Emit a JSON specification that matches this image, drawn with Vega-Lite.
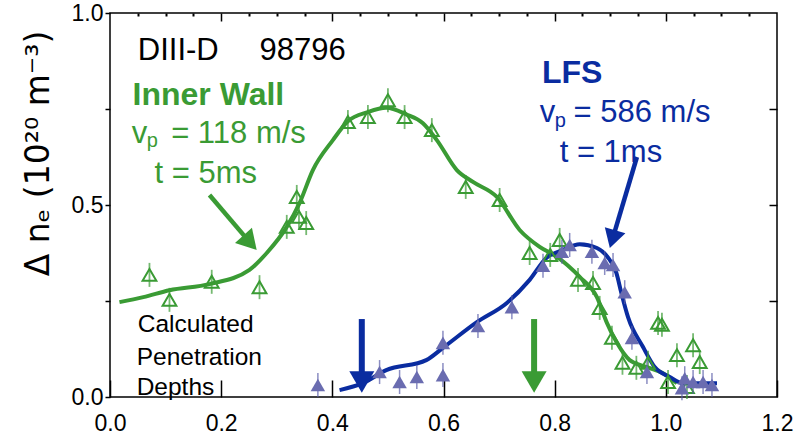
{
  "$schema": "https://vega.github.io/schema/vega-lite/v6.json",
  "width": 667,
  "height": 384,
  "autosize": {"type": "none"},
  "padding": {"left": 110, "top": 13, "right": 19, "bottom": 39},
  "background": "white",
  "config": {
    "view": {"stroke": "black", "strokeWidth": 1.5},
    "font": "Liberation Sans",
    "axis": {"domain": false, "grid": false, "tickColor": "black", "labelColor": "black", "labelFont": "Liberation Sans", "titleFont": "Liberation Sans", "tickWidth": 1.5}
  },
  "datasets": {
    "greenFit": [
      {"x": 0.017, "y": 0.247}, {"x": 0.06, "y": 0.26}, {"x": 0.107, "y": 0.278}, {"x": 0.179, "y": 0.294},
      {"x": 0.251, "y": 0.331}, {"x": 0.282, "y": 0.375}, {"x": 0.318, "y": 0.443}, {"x": 0.341, "y": 0.505},
      {"x": 0.365, "y": 0.591}, {"x": 0.401, "y": 0.669}, {"x": 0.428, "y": 0.718}, {"x": 0.464, "y": 0.742},
      {"x": 0.497, "y": 0.753}, {"x": 0.533, "y": 0.736}, {"x": 0.563, "y": 0.713}, {"x": 0.588, "y": 0.669},
      {"x": 0.624, "y": 0.591}, {"x": 0.653, "y": 0.56}, {"x": 0.696, "y": 0.521}, {"x": 0.737, "y": 0.435},
      {"x": 0.773, "y": 0.391}, {"x": 0.804, "y": 0.365}, {"x": 0.845, "y": 0.313}, {"x": 0.876, "y": 0.26},
      {"x": 0.894, "y": 0.193}, {"x": 0.912, "y": 0.141}, {"x": 0.935, "y": 0.096}, {"x": 0.966, "y": 0.078},
      {"x": 0.995, "y": 0.062}, {"x": 1.02, "y": 0.036}
    ],
    "blueFit": [
      {"x": 0.413, "y": 0.018}, {"x": 0.455, "y": 0.036}, {"x": 0.497, "y": 0.07}, {"x": 0.569, "y": 0.096},
      {"x": 0.599, "y": 0.128}, {"x": 0.66, "y": 0.195}, {"x": 0.714, "y": 0.245}, {"x": 0.755, "y": 0.305},
      {"x": 0.785, "y": 0.362}, {"x": 0.815, "y": 0.383}, {"x": 0.845, "y": 0.398}, {"x": 0.876, "y": 0.388},
      {"x": 0.895, "y": 0.365}, {"x": 0.911, "y": 0.323}, {"x": 0.92, "y": 0.271}, {"x": 0.932, "y": 0.208},
      {"x": 0.959, "y": 0.13}, {"x": 0.98, "y": 0.078}, {"x": 1.007, "y": 0.052}, {"x": 1.031, "y": 0.036},
      {"x": 1.092, "y": 0.036}
    ],
    "greenPts": [
      {"x": 0.071, "y": 0.318}, {"x": 0.107, "y": 0.253}, {"x": 0.183, "y": 0.3}, {"x": 0.269, "y": 0.286},
      {"x": 0.318, "y": 0.443}, {"x": 0.336, "y": 0.521}, {"x": 0.34, "y": 0.469}, {"x": 0.353, "y": 0.453},
      {"x": 0.428, "y": 0.716}, {"x": 0.464, "y": 0.729}, {"x": 0.5, "y": 0.773}, {"x": 0.53, "y": 0.729},
      {"x": 0.579, "y": 0.695}, {"x": 0.64, "y": 0.547}, {"x": 0.701, "y": 0.513}, {"x": 0.755, "y": 0.375},
      {"x": 0.809, "y": 0.409}, {"x": 0.792, "y": 0.37}, {"x": 0.842, "y": 0.305}, {"x": 0.869, "y": 0.297},
      {"x": 0.881, "y": 0.232}, {"x": 0.903, "y": 0.154}, {"x": 0.922, "y": 0.089}, {"x": 0.947, "y": 0.076},
      {"x": 0.968, "y": 0.089}, {"x": 0.986, "y": 0.193}, {"x": 0.993, "y": 0.188}, {"x": 1.02, "y": 0.109},
      {"x": 1.049, "y": 0.135}, {"x": 1.061, "y": 0.091}, {"x": 1.004, "y": 0.039}, {"x": 1.038, "y": 0.026}
    ],
    "bluePts": [
      {"x": 0.374, "y": 0.031}, {"x": 0.485, "y": 0.065}, {"x": 0.521, "y": 0.039}, {"x": 0.552, "y": 0.052},
      {"x": 0.599, "y": 0.057}, {"x": 0.599, "y": 0.141}, {"x": 0.662, "y": 0.185}, {"x": 0.723, "y": 0.234},
      {"x": 0.779, "y": 0.342}, {"x": 0.813, "y": 0.378}, {"x": 0.827, "y": 0.396}, {"x": 0.867, "y": 0.378},
      {"x": 0.89, "y": 0.349}, {"x": 0.905, "y": 0.344}, {"x": 0.926, "y": 0.273}, {"x": 0.939, "y": 0.154},
      {"x": 0.966, "y": 0.065}, {"x": 1.029, "y": 0.023}, {"x": 1.034, "y": 0.049}, {"x": 1.049, "y": 0.039},
      {"x": 1.067, "y": 0.039}, {"x": 1.083, "y": 0.031}
    ],
    "arrows": [
      {"id": "blueDepth", "group": "LFS", "kind": "vertical", "x": 0.453, "y": 0.203, "x2": 0.453, "y2": 0.039},
      {"id": "greenDepth", "group": "Inner Wall", "kind": "vertical", "x": 0.763, "y": 0.203, "x2": 0.763, "y2": 0.039},
      {"id": "greenLabel", "group": "Inner Wall", "kind": "diagonal", "x": 0.179, "y": 0.526, "x2": 0.252, "y2": 0.402},
      {"id": "blueLabel", "group": "LFS", "kind": "diagonal", "x": 0.948, "y": 0.625, "x2": 0.904, "y2": 0.411}
    ],
    "bigText": [
      {"t": "DIII-D", "group": "note", "x": 0.05, "y": 0.878},
      {"t": "98796", "group": "note", "x": 0.269, "y": 0.878},
      {"t": "v", "group": "Inner Wall", "x": 0.039, "y": 0.661},
      {"t": "= 118 m/s", "group": "Inner Wall", "x": 0.11, "y": 0.661},
      {"t": "t = 5ms", "group": "Inner Wall", "x": 0.08, "y": 0.557},
      {"t": "v", "group": "LFS", "x": 0.773, "y": 0.716},
      {"t": "= 586 m/s", "group": "LFS", "x": 0.834, "y": 0.716},
      {"t": "t = 1ms", "group": "LFS", "x": 0.809, "y": 0.612}
    ],
    "boldText": [
      {"t": "Inner Wall", "group": "Inner Wall", "x": 0.0405, "y": 0.76},
      {"t": "LFS", "group": "LFS", "x": 0.777, "y": 0.818}
    ],
    "subText": [
      {"t": "p", "group": "Inner Wall", "x": 0.066, "y": 0.651},
      {"t": "p", "group": "LFS", "x": 0.8, "y": 0.703}
    ],
    "noteText": [
      {"t": "Calculated", "group": "note", "x": 0.05, "y": 0.169},
      {"t": "Penetration", "group": "note", "x": 0.048, "y": 0.083},
      {"t": "Depths", "group": "note", "x": 0.048, "y": 0.005}
    ]
  },
  "resolve": {"axis": {"x": "independent", "y": "independent"}},
  "layer": [
    {
      "data": {"name": "greenFit"},
      "mark": {"type": "line", "color": "#3a9b34", "strokeWidth": 4, "interpolate": "monotone"},
      "encoding": {
        "x": {"field": "x", "type": "quantitative", "scale": {"domain": [0, 1.2], "nice": false, "zero": false},
          "axis": {"orient": "bottom", "values": [0, 0.2, 0.4, 0.6, 0.8, 1.0, 1.2], "format": ".1f", "labelFontSize": 23, "tickSize": -17, "labelPadding": 32, "title": null, "labelFlush": false}},
        "y": {"field": "y", "type": "quantitative", "scale": {"domain": [0, 1], "nice": false},
          "axis": {"orient": "left", "values": [0, 0.25, 0.5, 0.75, 1.0], "labelExpr": "datum.value == 0.25 || datum.value == 0.75 ? '' : format(datum.value, '.1f')", "labelFontSize": 23, "tickSize": 5, "labelPadding": 2, "labelFlush": false,
            "title": "Δ nₑ (10²⁰ m⁻³)", "titleFont": "DejaVu Sans", "titleFontSize": 33, "titleFontWeight": "normal", "titleColor": "black", "titleY": 140, "titleX": -55, "titleAnchor": null}}
      }
    },
    {
      "data": {"name": "blueFit"},
      "mark": {"type": "line", "color": "#0a2ca0", "strokeWidth": 4, "interpolate": "monotone"},
      "encoding": {
        "x": {"field": "x", "type": "quantitative", "axis": {"orient": "top", "values": [0.2, 0.4, 0.6, 0.8, 1.0], "labels": false, "tickSize": -8, "title": null}},
        "y": {"field": "y", "type": "quantitative", "axis": {"orient": "right", "values": [0.25, 0.5, 0.75], "labels": false, "tickSize": -8, "title": null}}
      }
    },
    {
      "data": {"name": "greenPts"},
      "mark": {"type": "tick", "orient": "vertical", "color": "#3a9b34", "size": 24, "thickness": 1.8},
      "encoding": {
        "x": {"field": "x", "type": "quantitative", "axis": {"orient": "top", "values": [0.05, 0.1, 0.15, 0.25, 0.3, 0.35, 0.45, 0.5, 0.55, 0.65, 0.7, 0.75, 0.85, 0.9, 0.95, 1.05, 1.1, 1.15], "labels": false, "tickSize": -3, "tickWidth": 2, "title": null}},
        "y": {"field": "y", "type": "quantitative", "axis": null}
      }
    },
    {
      "data": {"name": "greenPts"},
      "mark": {"type": "point", "shape": "triangle-up", "filled": false, "color": "#3a9b34", "strokeWidth": 2, "size": 190, "opacity": 1},
      "encoding": {
        "x": {"field": "x", "type": "quantitative", "axis": null},
        "y": {"field": "y", "type": "quantitative", "axis": null}
      }
    },
    {
      "data": {"name": "bluePts"},
      "mark": {"type": "tick", "orient": "vertical", "color": "#5a5ca8", "size": 24, "thickness": 1.5},
      "encoding": {
        "x": {"field": "x", "type": "quantitative", "axis": null},
        "y": {"field": "y", "type": "quantitative", "axis": null}
      }
    },
    {
      "data": {"name": "bluePts"},
      "mark": {"type": "point", "shape": "triangle-up", "filled": true, "color": "#6a6cb0", "size": 210, "opacity": 1},
      "encoding": {
        "x": {"field": "x", "type": "quantitative", "axis": null},
        "y": {"field": "y", "type": "quantitative", "axis": null}
      }
    },
    {
      "data": {"name": "arrows"},
      "transform": [{"filter": "datum.kind == 'vertical'"}],
      "mark": {"type": "rule", "strokeWidth": 6},
      "encoding": {
        "x": {"field": "x", "type": "quantitative", "axis": null},
        "y": {"field": "y", "type": "quantitative", "axis": null},
        "x2": {"field": "x2"},
        "y2": {"field": "y2"},
        "color": {"field": "group", "type": "nominal", "scale": {"domain": ["Inner Wall", "LFS", "note"], "range": ["#3a9b34", "#0a2ca0", "#000000"]}, "legend": null}
      }
    },
    {
      "data": {"name": "arrows"},
      "transform": [{"filter": "datum.kind == 'diagonal'"}],
      "mark": {"type": "rule", "strokeWidth": 4.5},
      "encoding": {
        "x": {"field": "x", "type": "quantitative", "axis": null},
        "y": {"field": "y", "type": "quantitative", "axis": null},
        "x2": {"field": "x2"},
        "y2": {"field": "y2"},
        "color": {"field": "group", "type": "nominal", "legend": null}
      }
    },
    {
      "data": {"name": "arrows"},
      "transform": [{"filter": "datum.kind == 'vertical'"}],
      "mark": {"type": "point", "shape": "triangle-down", "filled": true, "size": 625, "opacity": 1},
      "encoding": {
        "x": {"field": "x2", "type": "quantitative", "axis": null},
        "y": {"field": "y2", "type": "quantitative", "axis": null},
        "color": {"field": "group", "type": "nominal", "legend": null}
      }
    },
    {
      "data": {"name": "arrows"},
      "transform": [{"filter": "datum.id == 'greenLabel'"}],
      "mark": {"type": "point", "shape": "triangle-down", "filled": true, "size": 520, "opacity": 1, "angle": 318},
      "encoding": {
        "x": {"field": "x2", "type": "quantitative", "axis": null},
        "y": {"field": "y2", "type": "quantitative", "axis": null},
        "color": {"field": "group", "type": "nominal", "legend": null}
      }
    },
    {
      "data": {"name": "arrows"},
      "transform": [{"filter": "datum.id == 'blueLabel'"}],
      "mark": {"type": "point", "shape": "triangle-down", "filled": true, "size": 460, "opacity": 1, "angle": 16.5},
      "encoding": {
        "x": {"field": "x2", "type": "quantitative", "axis": null},
        "y": {"field": "y2", "type": "quantitative", "axis": null},
        "color": {"field": "group", "type": "nominal", "legend": null}
      }
    },
    {
      "data": {"name": "bigText"},
      "mark": {"type": "text", "align": "left", "baseline": "alphabetic", "fontSize": 31, "font": "Liberation Sans"},
      "encoding": {
        "x": {"field": "x", "type": "quantitative", "axis": null},
        "y": {"field": "y", "type": "quantitative", "axis": null},
        "text": {"field": "t"},
        "color": {"field": "group", "type": "nominal", "legend": null}
      }
    },
    {
      "data": {"name": "boldText"},
      "mark": {"type": "text", "align": "left", "baseline": "alphabetic", "fontSize": 32, "fontWeight": "bold", "font": "Liberation Sans"},
      "encoding": {
        "x": {"field": "x", "type": "quantitative", "axis": null},
        "y": {"field": "y", "type": "quantitative", "axis": null},
        "text": {"field": "t"},
        "color": {"field": "group", "type": "nominal", "legend": null}
      }
    },
    {
      "data": {"name": "subText"},
      "mark": {"type": "text", "align": "left", "baseline": "alphabetic", "fontSize": 20, "font": "Liberation Sans"},
      "encoding": {
        "x": {"field": "x", "type": "quantitative", "axis": null},
        "y": {"field": "y", "type": "quantitative", "axis": null},
        "text": {"field": "t"},
        "color": {"field": "group", "type": "nominal", "legend": null}
      }
    },
    {
      "data": {"name": "noteText"},
      "mark": {"type": "text", "align": "left", "baseline": "alphabetic", "fontSize": 24.5, "font": "Liberation Sans"},
      "encoding": {
        "x": {"field": "x", "type": "quantitative", "axis": null},
        "y": {"field": "y", "type": "quantitative", "axis": null},
        "text": {"field": "t"},
        "color": {"field": "group", "type": "nominal", "legend": null}
      }
    }
  ]
}
